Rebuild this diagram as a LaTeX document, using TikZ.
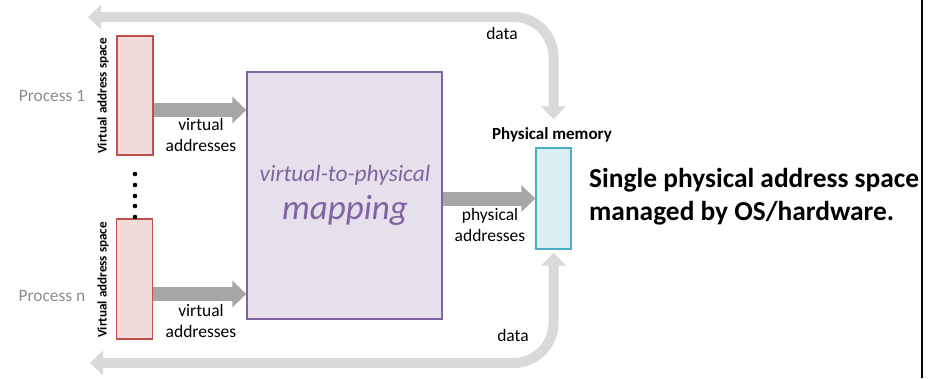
\documentclass[tikz,border=0pt]{standalone}
\usepackage{fontspec}
\setmainfont{Carlito}
\usepackage{tikz}
\usetikzlibrary{arrows.meta}
\definecolor{vasred}{RGB}{192,80,77}
\definecolor{vaslight}{RGB}{242,220,219}
\definecolor{mappurple}{RGB}{128,100,162}
\definecolor{maplight}{RGB}{229,224,236}
\definecolor{pmblue}{RGB}{75,172,198}
\definecolor{pmlight}{RGB}{218,238,243}
\definecolor{addrgray}{RGB}{166,166,166}
\definecolor{datagray}{RGB}{217,217,217}
\definecolor{proctext}{RGB}{140,140,140}
\tikzset{
  vasbox/.style={draw=vasred, line width=1.3pt, fill=vaslight, minimum width=36pt, minimum height=119pt, inner sep=0pt},
  mapbox/.style={draw=mappurple, line width=1.3pt, fill=maplight, minimum width=195pt, minimum height=247pt, inner sep=0pt},
  pmbox/.style={draw=pmblue, line width=1.3pt, fill=pmlight, minimum width=35pt, minimum height=101pt, inner sep=0pt},
  lbl/.style={align=center, inner sep=0pt, font=\fontsize{17.5}{20.5}\selectfont},
  vaslbl/.style={rotate=90, inner sep=0pt, font=\fontsize{13.1}{15}\selectfont\bfseries},
  proclbl/.style={inner sep=0pt, text=proctext, font=\fontsize{17.4}{20}\selectfont},
  addrarr/.style={-{Triangle[length=14pt,width=26pt]}, line width=14pt, draw=addrgray},
  dataarr/.style={{Triangle[length=13pt,width=24pt]}-{Triangle[length=13pt,width=24pt]}, line width=10pt, draw=datagray, rounded corners=40pt},
}

\begin{document}
\begin{tikzpicture}[x=1pt, y=-1pt]
    \useasboundingbox (0,0) rectangle (942,378);
    % processes
    \node[vasbox] (proc1) at (135,95.5) {};
    \node[vasbox, minimum height=120pt] (procn) at (134.5,279) {};
    \node[vaslbl] (vas1) at (103,96) {Virtual address space};
    \node[vaslbl] (vasn) at (103,280) {Virtual address space};
    \node[proclbl] (p1lab) at (52,96) {Process 1};
    \node[proclbl] (pnlab) at (52,296) {Process n};
    \foreach \y in {174,185,196,206,217}{\fill (135,\y) circle(2.3pt);}
    % mapping and memory
    \node[mapbox] (vmap) at (344.5,195.5) {};
    \node[lbl, text=mappurple, font=\fontsize{23.4}{27}\selectfont\itshape] (maptop) at (345,175) {virtual-to-physical};
    \node[lbl, text=mappurple, font=\fontsize{35}{40}\selectfont\itshape] (mapbot) at (345,210) {mapping};
    \node[pmbox] (pmem) at (553.5,198.5) {};
    \node[lbl, font=\fontsize{17}{20}\selectfont\bfseries] (pmlab) at (552,135) {Physical memory};
    % address arrows
    \draw[addrarr] ([yshift=-14.5pt]proc1.east) -- ([yshift=-14.5pt]proc1.east -| vmap.west);
    \draw[addrarr] ([yshift=-15pt]procn.east) -- ([yshift=-15pt]procn.east -| vmap.west);
    \draw[addrarr] (vmap.east |- pmem.west) -- (pmem.west);
    \node[lbl] (va1) at (201,135) {virtual\\addresses};
    \node[lbl] (va2) at (201,321) {virtual\\addresses};
    \node[lbl] (pa) at (490,225) {physical\\addresses};
    % data arrows
    \coordinate (outtop) at (88,17);
    \coordinate (outbot) at (90,363);
    \draw[dataarr] ([yshift=28pt]pmem.north) -- (pmem.north |- outtop) -- (outtop);
    \draw[dataarr] ([yshift=-3pt]pmem.south) -- (pmem.south |- outbot) -- (outbot);
    \node[lbl] (datatop) at (502,33) {data};
    \node[lbl] (databot) at (513,335) {data};
    % caption
    \node[align=left, anchor=west, inner sep=0pt, font=\fontsize{27.4}{33}\selectfont\bfseries] (single) at (589,197) {Single physical address space\\managed by OS/hardware.};
    \draw[line width=1.2pt] (922,0) -- (922,378);
  \end{tikzpicture}
\end{document}
